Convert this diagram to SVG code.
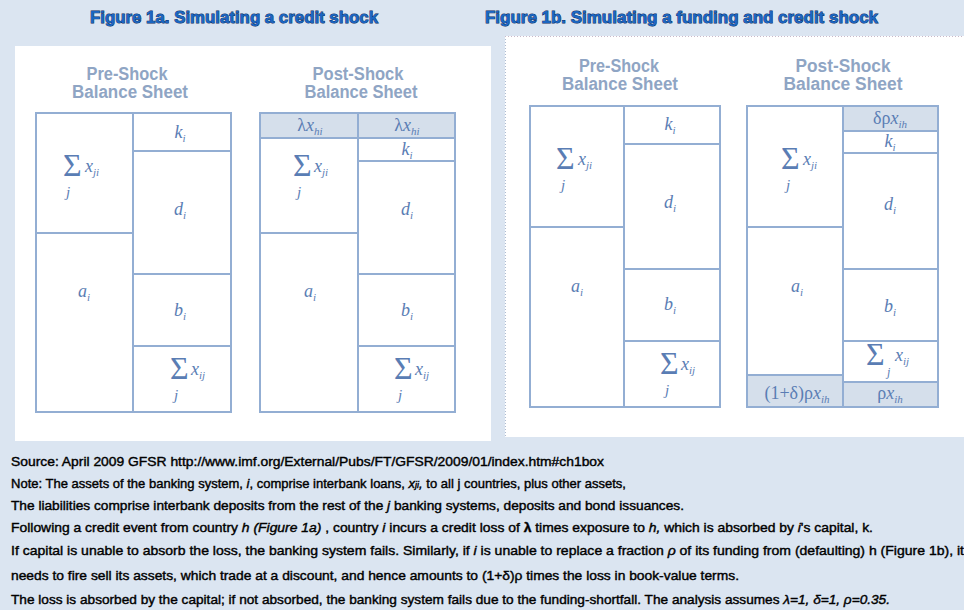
<svg xmlns="http://www.w3.org/2000/svg" width="964" height="610" viewBox="0 0 964 610">
<style>
.panel{fill:#ffffff}
.cell{fill:#ffffff;stroke:#93aed3;stroke-width:2}
.shade{fill:#d5dfeb;stroke:#93aed3;stroke-width:2}
.title{font-family:"Liberation Sans",Arial,sans-serif;font-weight:bold;font-size:17px;fill:#1a66c2;stroke:#0b2a5c;stroke-width:0.9px;paint-order:stroke}
.head{font-family:"Liberation Sans",Arial,sans-serif;font-weight:bold;font-size:18px;fill:#8fa5c4;text-anchor:middle}
.m{font-family:"Liberation Serif","Times New Roman",serif;font-style:italic;font-size:18px;fill:#5a7db4}
.c{text-anchor:middle}
.s{font-size:11px}
.up{font-style:normal}
.sig{font-family:"Liberation Serif","Times New Roman",serif;font-size:32px;fill:#5a7db4}
.j{font-family:"Liberation Serif","Times New Roman",serif;font-style:italic;font-size:15px;fill:#5a7db4}
.foot{font-family:"Liberation Sans",Arial,sans-serif;font-size:13px;fill:#000;stroke:#000;stroke-width:0.4px}
.it{font-style:italic}
</style>
<rect x="0" y="0" width="964" height="610" fill="#dbe5f1"/>
<rect class="panel" x="15" y="46" width="476" height="395"/>
<rect class="panel" x="505" y="36" width="459" height="401"/>
<line x1="505.5" y1="36" x2="505.5" y2="437" stroke="#aebbd0" stroke-width="1" stroke-dasharray="1,2"/>
<line x1="505" y1="36.5" x2="964" y2="36.5" stroke="#c9b9c9" stroke-width="1" stroke-dasharray="1,2"/>

<text class="title" x="90" y="23" textLength="288" lengthAdjust="spacingAndGlyphs">Figure 1a. Simulating a credit shock</text>
<text class="title" x="485" y="23" textLength="393" lengthAdjust="spacingAndGlyphs">Figure 1b. Simulating a funding and credit shock</text>

<text class="head" x="127" y="80" textLength="81" lengthAdjust="spacingAndGlyphs">Pre-Shock</text>
<text class="head" x="130" y="98" textLength="116" lengthAdjust="spacingAndGlyphs">Balance Sheet</text>
<text class="head" x="358" y="80" textLength="91" lengthAdjust="spacingAndGlyphs">Post-Shock</text>
<text class="head" x="361" y="98" textLength="113" lengthAdjust="spacingAndGlyphs">Balance Sheet</text>
<text class="head" x="619" y="72" textLength="80" lengthAdjust="spacingAndGlyphs">Pre-Shock</text>
<text class="head" x="620" y="90" textLength="116" lengthAdjust="spacingAndGlyphs">Balance Sheet</text>
<text class="head" x="843" y="72" textLength="95" lengthAdjust="spacingAndGlyphs">Post-Shock</text>
<text class="head" x="843" y="90" textLength="119" lengthAdjust="spacingAndGlyphs">Balance Sheet</text>

<g id="fig1a-pre">
<rect class="cell" x="36" y="113" width="97" height="120"/>
<rect class="cell" x="36" y="233" width="97" height="179"/>
<rect class="cell" x="133" y="113" width="98" height="38"/>
<rect class="cell" x="133" y="151" width="98" height="123"/>
<rect class="cell" x="133" y="274" width="98" height="72"/>
<rect class="cell" x="133" y="346" width="98" height="66"/>
<text class="sig" x="63" y="176">Σ</text><text class="m" x="85" y="172">x<tspan class="s" dy="4">ji</tspan></text><text class="j" x="66" y="197">j</text>
<text class="m c" x="180" y="138">k<tspan class="s" dy="4">i</tspan></text>
<text class="m c" x="180" y="215">d<tspan class="s" dy="4">i</tspan></text>
<text class="m c" x="84" y="297">a<tspan class="s" dy="4">i</tspan></text>
<text class="m c" x="180" y="316">b<tspan class="s" dy="4">i</tspan></text>
<text class="sig" x="170" y="379">Σ</text><text class="m" x="191" y="375">x<tspan class="s" dy="4">ij</tspan></text><text class="j" x="174" y="400">j</text>
</g>

<g id="fig1a-post">
<rect class="shade" x="260" y="113" width="98" height="25"/>
<rect class="shade" x="358" y="113" width="97" height="25"/>
<rect class="cell" x="260" y="138" width="98" height="95"/>
<rect class="cell" x="260" y="233" width="98" height="179"/>
<rect class="cell" x="358" y="138" width="97" height="23"/>
<rect class="cell" x="358" y="161" width="97" height="113"/>
<rect class="cell" x="358" y="274" width="97" height="72"/>
<rect class="cell" x="358" y="346" width="97" height="66"/>
<text class="m c" x="310" y="131"><tspan class="up">λ</tspan>x<tspan class="s" dy="4">hi</tspan></text>
<text class="m c" x="407" y="131"><tspan class="up">λ</tspan>x<tspan class="s" dy="4">hi</tspan></text>
<text class="m c" x="407" y="155">k<tspan class="s" dy="4">i</tspan></text>
<text class="m c" x="407" y="215">d<tspan class="s" dy="4">i</tspan></text>
<text class="m c" x="310" y="297">a<tspan class="s" dy="4">i</tspan></text>
<text class="m c" x="407" y="316">b<tspan class="s" dy="4">i</tspan></text>
<text class="sig" x="293" y="176">Σ</text><text class="m" x="314" y="172">x<tspan class="s" dy="4">ji</tspan></text><text class="j" x="297" y="197">j</text>
<text class="sig" x="394" y="379">Σ</text><text class="m" x="415" y="375">x<tspan class="s" dy="4">ij</tspan></text><text class="j" x="398" y="400">j</text>
</g>

<g id="fig1b-pre">
<rect class="cell" x="530" y="106" width="94" height="121"/>
<rect class="cell" x="530" y="227" width="94" height="180"/>
<rect class="cell" x="624" y="106" width="96" height="38"/>
<rect class="cell" x="624" y="144" width="96" height="125"/>
<rect class="cell" x="624" y="269" width="96" height="72"/>
<rect class="cell" x="624" y="341" width="96" height="66"/>
<text class="sig" x="556" y="169">Σ</text><text class="m" x="578" y="165">x<tspan class="s" dy="4">ji</tspan></text><text class="j" x="561" y="190">j</text>
<text class="m c" x="670" y="130">k<tspan class="s" dy="4">i</tspan></text>
<text class="m c" x="670" y="208">d<tspan class="s" dy="4">i</tspan></text>
<text class="m c" x="577" y="292">a<tspan class="s" dy="4">i</tspan></text>
<text class="m c" x="670" y="310">b<tspan class="s" dy="4">i</tspan></text>
<text class="sig" x="660" y="374">Σ</text><text class="m" x="681" y="370">x<tspan class="s" dy="4">ij</tspan></text><text class="j" x="665" y="395">j</text>
</g>

<g id="fig1b-post">
<rect class="cell" x="747" y="106" width="96" height="121"/>
<rect class="cell" x="747" y="227" width="96" height="148"/>
<rect class="shade" x="747" y="375" width="96" height="32"/>
<rect class="shade" x="843" y="106" width="95" height="25"/>
<rect class="cell" x="843" y="131" width="95" height="22"/>
<rect class="cell" x="843" y="153" width="95" height="116"/>
<rect class="cell" x="843" y="269" width="95" height="72"/>
<rect class="cell" x="843" y="341" width="95" height="41"/>
<rect class="shade" x="843" y="382" width="95" height="25"/>
<text class="m c" x="890" y="124"><tspan class="up">δρ</tspan>x<tspan class="s" dy="4">ih</tspan></text>
<text class="m c" x="890" y="147">k<tspan class="s" dy="4">i</tspan></text>
<text class="sig" x="781" y="169">Σ</text><text class="m" x="803" y="165">x<tspan class="s" dy="4">ji</tspan></text><text class="j" x="786" y="190">j</text>
<text class="m c" x="890" y="210">d<tspan class="s" dy="4">i</tspan></text>
<text class="m c" x="797" y="292">a<tspan class="s" dy="4">i</tspan></text>
<text class="m c" x="890" y="312">b<tspan class="s" dy="4">i</tspan></text>
<text class="sig" x="866" y="365">Σ</text><text class="j" x="887" y="376" style="font-size:12px">j</text><text class="m" x="895" y="361">x<tspan class="s" dy="4">ij</tspan></text>
<text class="m c" x="797" y="399"><tspan class="up">(1+δ)ρ</tspan>x<tspan class="s" dy="4">ih</tspan></text>
<text class="m c" x="890" y="399"><tspan class="up">ρ</tspan>x<tspan class="s" dy="4">ih</tspan></text>
</g>

<g id="connectors"/>

<g id="footer">
<text class="foot" x="11" y="466" textLength="593" lengthAdjust="spacingAndGlyphs">Source: April 2009 GFSR http://www.imf.org/External/Pubs/FT/GFSR/2009/01/index.htm#ch1box</text>
<text class="foot" x="11" y="488" textLength="615" lengthAdjust="spacingAndGlyphs">Note: The assets of the banking system, <tspan class="it">i</tspan>,  comprise interbank loans, <tspan class="it">x<tspan style="font-size:9px">ji</tspan>,</tspan>  to all  j  countries, plus other assets,</text>
<text class="foot" x="11" y="510" textLength="673" lengthAdjust="spacingAndGlyphs">The liabilities comprise interbank deposits from the rest of the <tspan class="it">j</tspan>  banking systems, deposits and bond issuances.</text>
<text class="foot" x="11" y="532" textLength="862" lengthAdjust="spacingAndGlyphs">Following a credit event from country <tspan class="it">h (Figure 1a)</tspan> , country <tspan class="it">i</tspan>  incurs a credit loss of <tspan style="font-weight:bold">λ</tspan>  times exposure to <tspan class="it">h,</tspan>  which is absorbed by <tspan class="it">i</tspan>'s capital,  k.</text>
<text class="foot" x="11" y="555" textLength="953" lengthAdjust="spacingAndGlyphs">If capital is unable to absorb the loss, the banking system fails. Similarly, if <tspan class="it">i</tspan>  is unable to replace a fraction <tspan class="it">ρ</tspan>  of its funding from (defaulting) h (Figure 1b), it</text>
<text class="foot" x="11" y="580" textLength="728" lengthAdjust="spacingAndGlyphs">needs to fire sell its assets, which trade at a discount, and hence amounts to (1+δ)ρ times the loss in book-value terms.</text>
<text class="foot" x="11" y="604" textLength="879" lengthAdjust="spacingAndGlyphs">The loss is absorbed by the capital; if not absorbed, the banking system fails due to the funding-shortfall. The analysis assumes <tspan class="it">λ=1, δ=1, ρ=0.35.</tspan></text>
</g>
</svg>
